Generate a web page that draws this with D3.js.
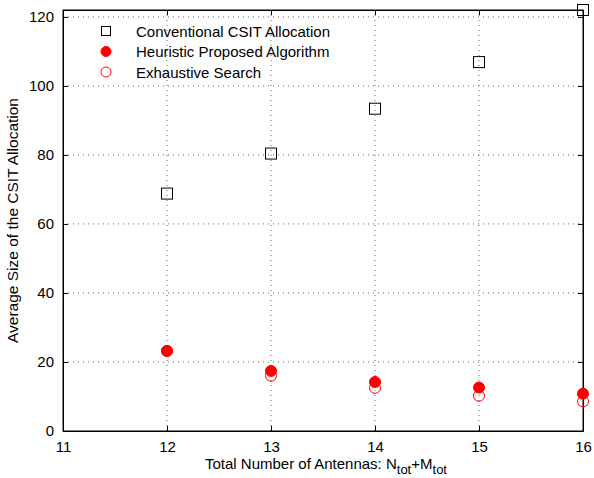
<!DOCTYPE html>
<html lang="en">
<head>
<meta charset="utf-8">
<title>Average Size of the CSIT Allocation</title>
<script src="https://cdn.jsdelivr.net/npm/d3@7"></script>
<style>
  body { margin: 0; background: #fff; }
  text { font-family: "Liberation Sans", Arial, Helvetica, sans-serif; font-size: 15px; fill: #000; }
</style>
</head>
<body>
<div id="chart"></div>
<script>
// data
var antennas = [12, 13, 14, 15, 16];
var conventional = [68.8, 80.4, 93.4, 106.9, 122.0];
var heuristic = [23.2, 17.4, 14.2, 12.6, 10.8];
var exhaustive = [23.2, 16.0, 12.5, 10.2, 8.6];
var xTicks = [11, 12, 13, 14, 15, 16];
var yTicks = [0, 20, 40, 60, 80, 100, 120];
var legendNames = ["Conventional CSIT Allocation", "Heuristic Proposed Algorithm", "Exhaustive Search"];

var w = 594, h = 478;
var margin = {left: 63, right: 11, top: 10, bottom: 47};
var width = w - margin.left - margin.right;
var height = h - margin.top - margin.bottom;

var svg = d3.select("#chart").append("svg")
    .attr("width", w)
    .attr("height", h);

var g = svg.append("g")
    .attr("transform", "translate(" + margin.left + "," + margin.top + ")");

var x = d3.scaleLinear().domain([11, 16]).range([0, width]);
var y = d3.scaleLinear().domain([0, 122]).range([height, 0]);

// grid (dotted)
g.append("g").selectAll("line")
    .data(xTicks.slice(1, -1))
    .enter().append("line")
    .attr("x1", function(d){ return x(d); })
    .attr("x2", function(d){ return x(d); })
    .attr("y1", 0).attr("y2", height)
    .attr("stroke", "#666").attr("stroke-width", 1)
    .attr("stroke-dasharray", "1,4");

g.append("g").selectAll("line")
    .data(yTicks.slice(1))
    .enter().append("line")
    .attr("y1", function(d){ return y(d); })
    .attr("y2", function(d){ return y(d); })
    .attr("x1", 0).attr("x2", width)
    .attr("stroke", "#666").attr("stroke-width", 1)
    .attr("stroke-dasharray", "1,4");

// axes, ticks inside, MATLAB style
g.append("g")
    .attr("transform", "translate(0," + height + ")")
    .call(d3.axisBottom(x).tickValues(xTicks).tickFormat(d3.format("d"))
        .tickSizeInner(-5).tickSizeOuter(0).tickPadding(10));
g.append("g")
    .call(d3.axisLeft(y).tickValues(yTicks).tickFormat(d3.format("d"))
        .tickSizeInner(-5).tickSizeOuter(0).tickPadding(9));
g.append("g")
    .call(d3.axisTop(x).tickValues(xTicks).tickSizeInner(-5).tickSizeOuter(0).tickFormat(""));
g.append("g")
    .attr("transform", "translate(" + width + ",0)")
    .call(d3.axisRight(y).tickValues(yTicks).tickSizeInner(-5).tickSizeOuter(0).tickFormat(""));

g.selectAll(".domain").attr("stroke", "#000");
g.selectAll(".tick line").attr("stroke", "#000");
g.selectAll(".tick text").style("font-size", "15px").attr("fill", "#000");

g.append("rect")
    .attr("width", width).attr("height", height)
    .attr("fill", "none").attr("stroke", "#000").attr("stroke-width", 1);

// series
var convData = antennas.map(function(a, i){ return {x: a, y: conventional[i]}; });
var heurData = antennas.map(function(a, i){ return {x: a, y: heuristic[i]}; });
var exhData = antennas.map(function(a, i){ return {x: a, y: exhaustive[i]}; });

var s = 11;
g.selectAll(".conv").data(convData).enter().append("rect")
    .attr("class", "conv")
    .attr("x", function(d){ return x(d.x) - s / 2; })
    .attr("y", function(d){ return y(d.y) - s / 2; })
    .attr("width", s).attr("height", s)
    .attr("fill", "none").attr("stroke", "#000").attr("stroke-width", 1);

g.selectAll(".exh").data(exhData).enter().append("circle")
    .attr("class", "exh")
    .attr("cx", function(d){ return x(d.x); })
    .attr("cy", function(d){ return y(d.y); })
    .attr("r", 5.5)
    .attr("fill", "none").attr("stroke", "#ff0000").attr("stroke-width", 1);

g.selectAll(".heur").data(heurData).enter().append("circle")
    .attr("class", "heur")
    .attr("cx", function(d){ return x(d.x); })
    .attr("cy", function(d){ return y(d.y); })
    .attr("r", 5.5)
    .attr("fill", "#ff0000").attr("stroke", "#ff0000");

// legend (no box)
var legend = svg.append("g").attr("transform", "translate(106,31)");
legendNames.forEach(function(name, i){
    var row = legend.append("g").attr("transform", "translate(0," + (i * 20.5) + ")");
    if (i == 0) {
        row.append("rect").attr("x", -4.5).attr("y", -4.5).attr("width", 9).attr("height", 9)
            .attr("fill", "none").attr("stroke", "#000");
    } else if (i == 1) {
        row.append("circle").attr("r", 5).attr("fill", "#ff0000").attr("stroke", "#ff0000");
    } else {
        row.append("circle").attr("r", 5).attr("fill", "none").attr("stroke", "#ff0000");
    }
    row.append("text").attr("x", 30).attr("y", 5.5).text(name);
});

// axis labels
var xl = svg.append("text")
    .attr("x", margin.left + width / 2 + 3)
    .attr("y", 469)
    .attr("text-anchor", "middle");
xl.append("tspan").text("Total Number of Antennas: N");
xl.append("tspan").attr("dy", 5).style("font-size", "13px").text("tot");
xl.append("tspan").attr("dy", -5).text("+M");
xl.append("tspan").attr("dy", 5).style("font-size", "13px").text("tot");

svg.append("text")
    .attr("transform", "translate(18," + (margin.top + height / 2) + ") rotate(-90)")
    .attr("text-anchor", "middle")
    .style("font-size", "15.5px")
    .text("Average Size of the CSIT Allocation");
</script>
</body>
</html>
